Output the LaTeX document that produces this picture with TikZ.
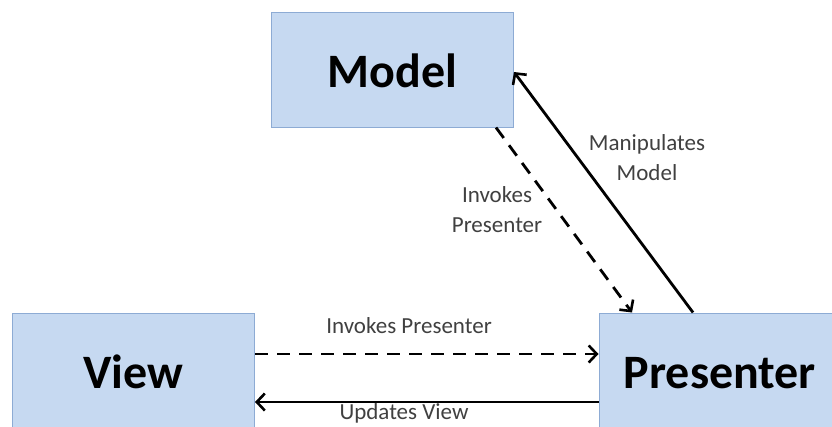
\documentclass[tikz,border=0pt]{standalone}
\usepackage{fontspec}
\setmainfont{Carlito}
\usetikzlibrary{arrows.meta}
\definecolor{boxfill}{RGB}{198,217,241}
\definecolor{boxline}{RGB}{141,171,212}
\definecolor{labelgray}{RGB}{64,64,64}
\tikzset{
  block/.style={draw=boxline, line width=1pt, fill=boxfill,
    minimum width=242pt, minimum height=115pt, inner sep=0pt,
    text height=35pt, text depth=0pt,
    font=\fontsize{48}{52}\selectfont\bfseries},
  flow/.style={line width=2.8pt, line cap=butt,
    -{Straight Barb[length=8pt,width=17pt,line width=2.6pt]}},
  dashflow/.style={flow, dash pattern=on 13pt off 9pt},
  caption/.style={text=labelgray, inner sep=0pt, align=center,
    font=\fontsize{23}{30}\selectfont}
}
\begin{document}
\begin{tikzpicture}[x=1pt, y=-1pt]
  \useasboundingbox (0,0) rectangle (832,426);
  \clip (0,0) rectangle (832,426);

  % the three components
  \node[block] (model)     at (392.5, 69.5) {Model};
  \node[block] (view)      at (133.5,370.5) {View};
  \node[block] (presenter) at (720,  370.5) {Presenter};

  % interactions
  \draw[dashflow] ([yshift=16.5pt]view.east) -- ([yshift=16.5pt]presenter.west);
  \draw[flow] ([yshift=-31.5pt]presenter.west) -- ([yshift=-31.5pt]view.east);
  \draw[dashflow] ([xshift=103.5pt]model.south) -- ([xshift=-88pt]presenter.north);
  \draw[flow] ([xshift=-27pt]presenter.north) -- ([yshift=-2.5pt]model.east);

  % connector labels (base anchor sits on the last line)
  \node[caption, anchor=base] (lblinvoke)  at (409, 333) {Invokes Presenter};
  \node[caption, anchor=base] (lblupdate)  at (404, 419) {Updates View};
  \node[caption, anchor=base] (lblinvoke2) at (497, 232) {Invokes\\Presenter};
  \node[caption, anchor=base] (lblmanip)   at (647, 180) {Manipulates\\Model};
\end{tikzpicture}
\end{document}
